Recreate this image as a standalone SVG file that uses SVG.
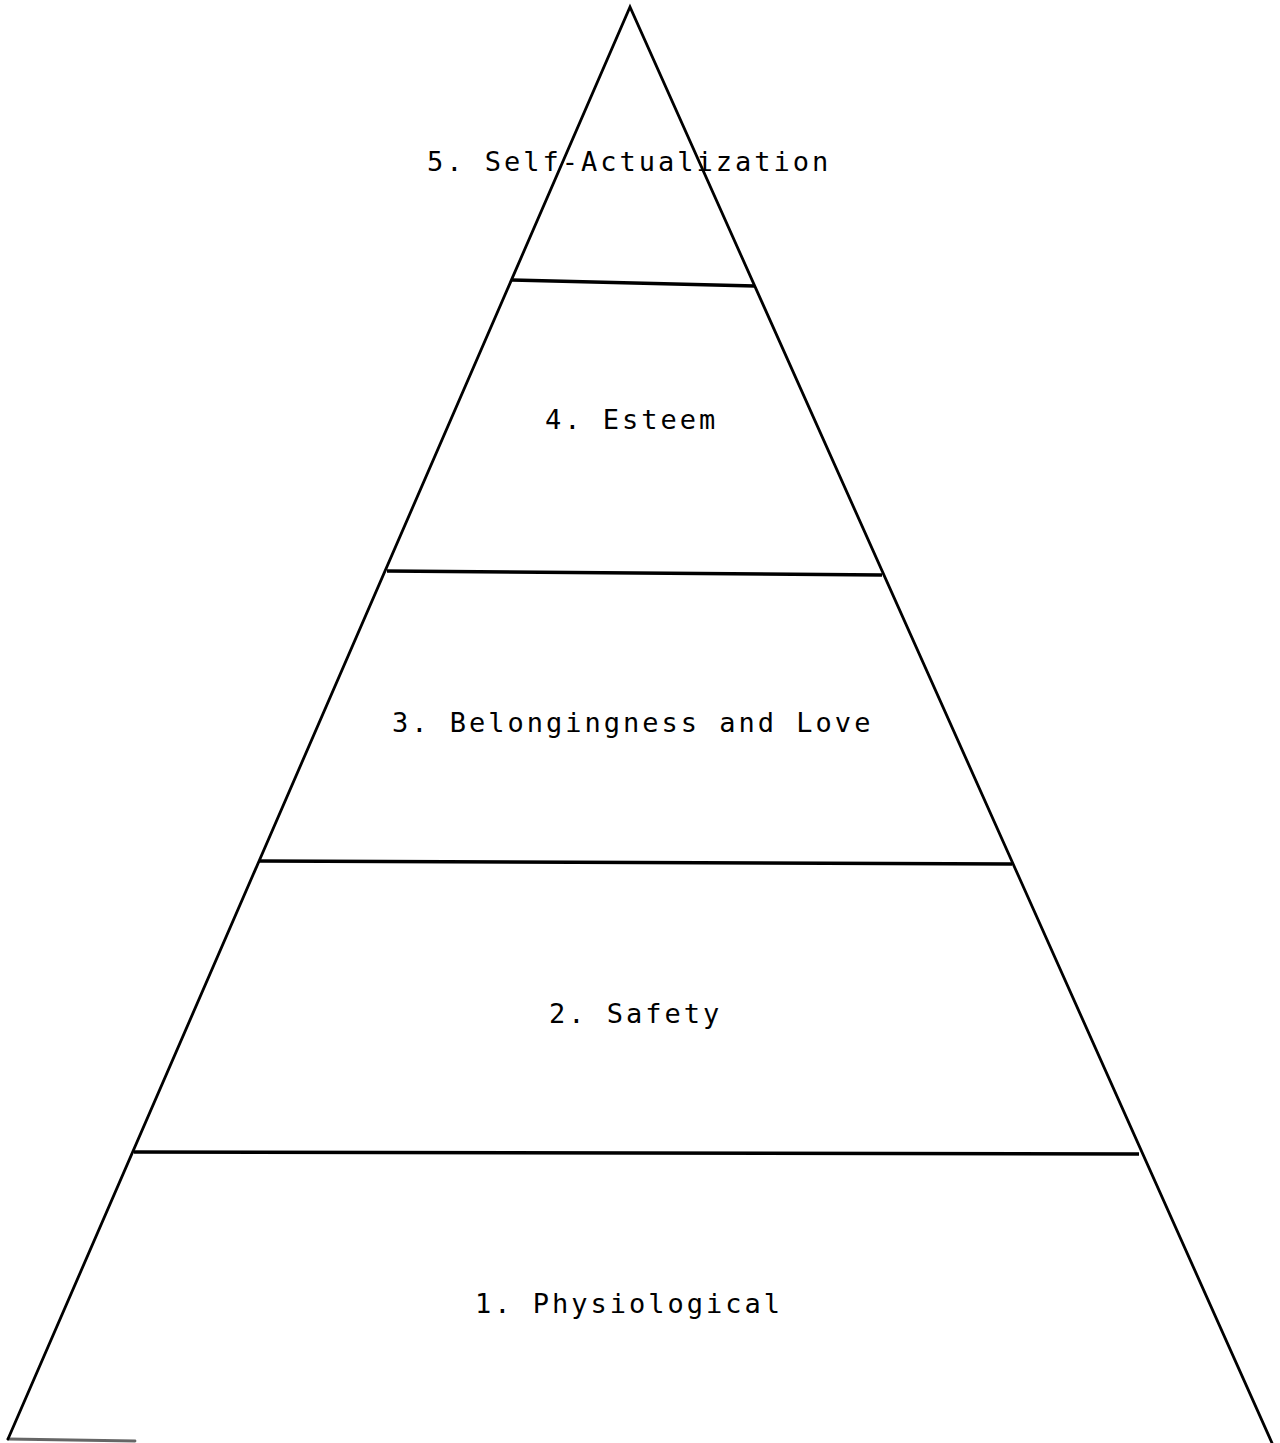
<svg xmlns="http://www.w3.org/2000/svg" width="1280" height="1443" viewBox="0 0 1280 1443">
<style>
.edge{stroke:#000;stroke-width:2.8;fill:none;stroke-linecap:round}
.tier{stroke:#000;stroke-width:3.4;fill:none}
.lbl{font-family:"DejaVu Sans Mono","Liberation Mono",monospace;font-size:27px;letter-spacing:3px;fill:#000}
</style>
<rect width="1280" height="1443" fill="#fff"/>
<g id="connectors">
<path class="edge" d="M8,1439 L630,7 L1272,1443"/>
<path class="edge" d="M8,1439 L135,1441" stroke-opacity="0.6"/>
<path class="tier" d="M512,280 L755,286"/>
<path class="tier" d="M387,571 L882,575"/>
<path class="tier" d="M259,861 L1012,864"/>
<path class="tier" d="M134,1152 L1139,1154"/>
</g>
<g id="level5"><text class="lbl" x="427" y="171">5. Self-Actualization</text></g>
<g id="level4"><text class="lbl" x="545" y="429">4. Esteem</text></g>
<g id="level3"><text class="lbl" x="392" y="732">3. Belongingness and Love</text></g>
<g id="level2"><text class="lbl" x="549" y="1023">2. Safety</text></g>
<g id="level1"><text class="lbl" x="475" y="1313">1. Physiological</text></g>
</svg>
